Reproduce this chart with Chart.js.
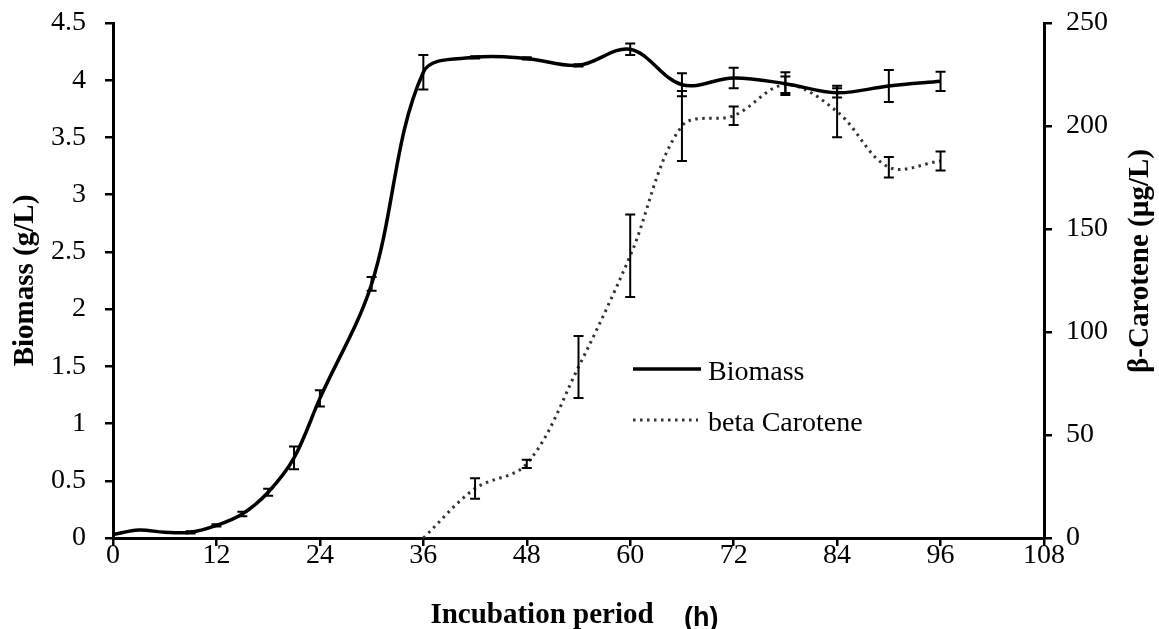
<!DOCTYPE html>
<html>
<head>
<meta charset="utf-8">
<script src="https://cdn.jsdelivr.net/npm/chart.js@4/dist/chart.umd.min.js"></script>
<style>
    html, body { margin: 0; padding: 0; background: #fff; }
    canvas { display: block; }
</style>
</head>
<body>
<canvas id="chart" width="1159" height="629"></canvas>
<script>
const biomassHours = [0, 3, 6, 9, 12, 15, 18, 21, 24, 30, 36, 42, 48, 54, 60, 66, 72, 78, 84, 90, 96];
const biomass = [0.03, 0.07, 0.05, 0.05, 0.11, 0.21, 0.40, 0.70, 1.22, 2.22, 4.07, 4.20, 4.19, 4.13, 4.27, 3.96, 4.02, 3.97, 3.89, 3.95, 3.99];
const biomassErr = [0, 0, 0, 0.01, 0.01, 0.02, 0.03, 0.10, 0.07, 0.06, 0.15, 0.01, 0.01, 0.01, 0.05, 0.10, 0.09, 0.10, 0.04, 0.14, 0.085];

const caroteneHours = [36, 42, 48, 54, 60, 66, 72, 78, 84, 90, 96];
const carotene = [0, 24, 36, 83, 137, 200, 205, 220, 207, 180, 183];
const caroteneErr = [0, 5, 2, 15, 20, 17, 4.5, 4, 12.5, 5, 4.6];

const xTicks = [0, 12, 24, 36, 48, 60, 72, 84, 96, 108];

const serif = 'Liberation Serif';
const toPoints = (xs, ys) => xs.map((x, i) => ({ x, y: ys[i] }));

const errorBars = {
    id: 'errorBars',
    afterDatasetsDraw(chart) {
        const { ctx } = chart;
        const sets = [
            { meta: chart.getDatasetMeta(0), xs: biomassHours, ys: biomass, es: biomassErr },
            { meta: chart.getDatasetMeta(1), xs: caroteneHours, ys: carotene, es: caroteneErr },
        ];
        ctx.save();
        ctx.strokeStyle = '#000';
        ctx.lineWidth = 2;
        sets.forEach(({ meta, xs, ys, es }) => {
            const xScale = chart.scales[meta.xAxisID];
            const yScale = chart.scales[meta.yAxisID];
            xs.forEach((h, i) => {
                if (!es[i]) {
                    return;
                }
                const px = xScale.getPixelForValue(h);
                const top = yScale.getPixelForValue(ys[i] + es[i]);
                const bot = yScale.getPixelForValue(ys[i] - es[i]);
                ctx.beginPath();
                ctx.moveTo(px, top);
                ctx.lineTo(px, bot);
                ctx.moveTo(px - 5, top);
                ctx.lineTo(px + 5, top);
                ctx.moveTo(px - 5, bot);
                ctx.lineTo(px + 5, bot);
                ctx.stroke();
            });
        });
        ctx.restore();
    },
};

const annotations = {
    id: 'annotations',
    afterDraw(chart) {
        const { ctx } = chart;
        ctx.save();
        ctx.fillStyle = '#000';
        ctx.textBaseline = 'alphabetic';

        // legend inside the plot
        ctx.strokeStyle = '#000';
        ctx.lineWidth = 3.5;
        ctx.beginPath();
        ctx.moveTo(633, 369);
        ctx.lineTo(701, 369);
        ctx.stroke();
        ctx.strokeStyle = '#333';
        ctx.lineWidth = 3;
        ctx.setLineDash([2.5, 4.5]);
        ctx.beginPath();
        ctx.moveTo(633, 420);
        ctx.lineTo(698, 420);
        ctx.stroke();
        ctx.setLineDash([]);
        ctx.font = `28px "${serif}"`;
        ctx.textAlign = 'left';
        ctx.fillText('Biomass', 708, 380);
        ctx.fillText('beta Carotene', 708, 431);

        // x axis title
        ctx.font = `bold 29px "${serif}"`;
        ctx.textAlign = 'center';
        ctx.fillText('Incubation period', 542, 623);
        ctx.font = 'bold 27px "Liberation Sans"';
        ctx.textAlign = 'left';
        ctx.fillText('(h)', 684, 626);

        // right axis title, reads bottom to top like the left one
        ctx.translate(1141, 261);
        ctx.rotate(-Math.PI / 2);
        ctx.font = `bold 29px "${serif}"`;
        ctx.textAlign = 'center';
        ctx.textBaseline = 'middle';
        ctx.fillText('β-Carotene (µg/L)', 0, 0);
        ctx.restore();
    },
};

const axisGrid = { display: true, drawOnChartArea: false, drawTicks: true, tickLength: 8, color: '#000', lineWidth: 2.5 };
const axisBorder = { display: true, color: '#000', width: 3 };
const plainNumber = (value) => String(value);

// fixed axis boxes so the plot area lands where it does in the figure
const fixWidth = (width) => (scale) => {
    scale.width = width;
    scale.paddingTop = 0;
    scale.paddingBottom = 0;
};

new Chart(document.getElementById('chart'), {
    type: 'line',
    data: {
        datasets: [
            {
                label: 'Biomass',
                data: toPoints(biomassHours, biomass),
                borderColor: '#000',
                borderWidth: 3.5,
                yAxisID: 'y',
            },
            {
                label: 'beta Carotene',
                data: toPoints(caroteneHours, carotene),
                borderColor: '#333',
                borderWidth: 3,
                borderDash: [2.5, 4.5],
                yAxisID: 'y1',
            },
        ],
    },
    options: {
        responsive: false,
        animation: false,
        layout: { autoPadding: false, padding: { top: 23, left: 0, right: 0, bottom: 0 } },
        datasets: {
            line: { tension: 0.35, pointRadius: 0, fill: false },
        },
        scales: {
            x: {
                type: 'linear',
                min: 0,
                max: 108,
                afterBuildTicks: (scale) => { scale.ticks = xTicks.map((value) => ({ value })); },
                ticks: { color: '#000', font: { family: serif, size: 28 }, padding: -7, maxRotation: 0, callback: plainNumber },
                grid: axisGrid,
                border: axisBorder,
                afterFit: (scale) => {
                    scale.height = 91;
                    scale.paddingLeft = 0;
                    scale.paddingRight = 0;
                },
            },
            y: {
                type: 'linear',
                position: 'left',
                min: 0,
                max: 4.5,
                ticks: { stepSize: 0.5, color: '#000', font: { family: serif, size: 28 }, padding: 19, callback: plainNumber },
                grid: axisGrid,
                border: axisBorder,
                title: {
                    display: true,
                    text: 'Biomass (g/L)',
                    color: '#000',
                    font: { family: serif, size: 29, weight: 'bold' },
                    padding: { top: 8, bottom: 0 },
                },
                afterFit: fixWidth(113),
            },
            y1: {
                type: 'linear',
                position: 'right',
                min: 0,
                max: 250,
                ticks: { stepSize: 50, color: '#000', font: { family: serif, size: 28 }, padding: 14, callback: plainNumber },
                grid: axisGrid,
                border: axisBorder,
                afterFit: fixWidth(115),
            },
        },
        plugins: {
            legend: { display: false },
            tooltip: { enabled: false },
        },
    },
    plugins: [errorBars, annotations],
});
</script>
</body>
</html>
